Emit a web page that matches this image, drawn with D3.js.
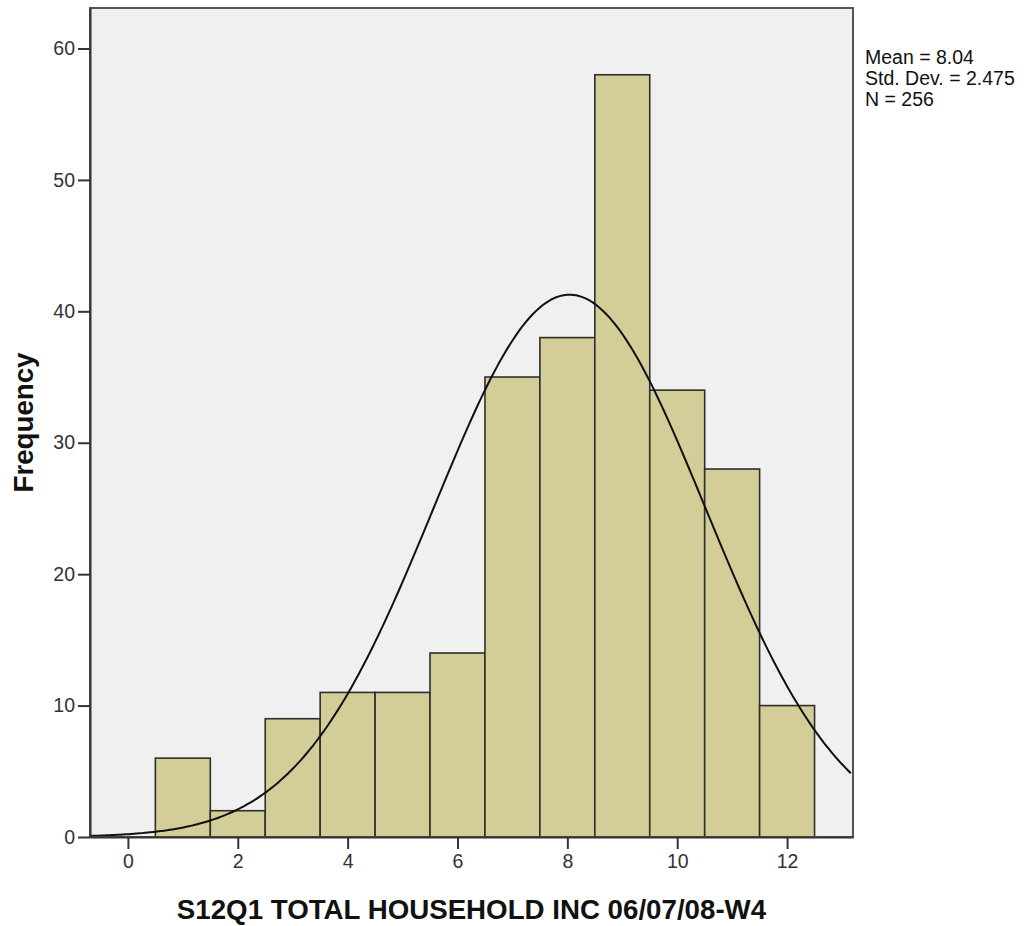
<!DOCTYPE html>
<html>
<head>
<meta charset="utf-8">
<script src="https://cdn.jsdelivr.net/npm/d3@7"></script>
<style>
  body { margin: 0; background: #fff; }
  svg { display: block; font-family: "Liberation Sans", Arial, sans-serif; }
</style>
</head>
<body>
<div id="chart"></div>
<script>
// histogram bins (centre of each bin) and counts
var binCenters = [1, 2, 3, 4, 5, 6, 7, 8, 9, 10, 11, 12];
var counts = [6, 2, 9, 11, 11, 14, 35, 38, 58, 34, 28, 10];
var xTicks = [0, 2, 4, 6, 8, 10, 12];
var yTicks = [0, 10, 20, 30, 40, 50, 60];
var stats = ["Mean = 8.04", "Std. Dev. = 2.475", "N = 256"];
var mean = 8.04, sd = 2.475, n = 256, binWidth = 1;

var width = 1027, height = 926;
var plot = { left: 90, top: 8, right: 853, bottom: 837 };

var svg = d3.select("#chart").append("svg")
    .attr("width", width)
    .attr("height", height);

var x = d3.scaleLinear()
    .domain([-0.69, 13.2])
    .range([plot.left, plot.right]);

var y = d3.scaleLinear()
    .domain([0, 63.08])
    .range([plot.bottom, plot.top]);

// plot background
svg.append("rect")
    .attr("x", plot.left)
    .attr("y", plot.top)
    .attr("width", plot.right - plot.left)
    .attr("height", plot.bottom - plot.top)
    .style("fill", "#f0f0f0");

svg.append("clipPath").attr("id", "clip")
  .append("rect")
    .attr("x", plot.left)
    .attr("y", plot.top)
    .attr("width", plot.right - plot.left)
    .attr("height", plot.bottom - plot.top);

// bars
svg.append("g").selectAll("rect")
    .data(binCenters)
  .enter().append("rect")
    .attr("x", function(d) { return x(d - binWidth / 2); })
    .attr("y", function(d, i) { return y(counts[i]); })
    .attr("width", function(d) { return x(d + binWidth / 2) - x(d - binWidth / 2); })
    .attr("height", function(d, i) { return y(0) - y(counts[i]); })
    .style("fill", "#d3ce97")
    .style("stroke", "#2e2e2e")
    .style("stroke-width", 1.6);

// normal curve from the shown mean / sd / N
var curveX = d3.range(-0.69, 13.21, 0.05);
var line = d3.line()
    .x(function(d) { return x(d); })
    .y(function(d) {
        var z = (d - mean) / sd;
        return y(n * binWidth * Math.exp(-0.5 * z * z) / (sd * Math.sqrt(2 * Math.PI)));
    });

svg.append("path")
    .datum(curveX)
    .attr("clip-path", "url(#clip)")
    .attr("d", line)
    .style("fill", "none")
    .style("stroke", "#111")
    .style("stroke-width", 2);

// frame
svg.append("rect")
    .attr("x", plot.left)
    .attr("y", plot.top)
    .attr("width", plot.right - plot.left)
    .attr("height", plot.bottom - plot.top)
    .style("fill", "none")
    .style("stroke", "#555")
    .style("stroke-width", 2);

// axes
var yAxis = svg.append("g")
    .attr("transform", "translate(" + plot.left + ",0)")
    .call(d3.axisLeft(y).tickValues(yTicks).tickSizeInner(12).tickSizeOuter(0)
        .tickPadding(3).tickFormat(d3.format("d")));

var xAxis = svg.append("g")
    .attr("transform", "translate(0," + plot.bottom + ")")
    .call(d3.axisBottom(x).tickValues(xTicks).tickSizeInner(12).tickSizeOuter(0)
        .tickPadding(5).tickFormat(d3.format("d")));

[xAxis, yAxis].forEach(function(ax) {
    ax.select(".domain").style("stroke", "#333").style("stroke-width", 2);
    ax.selectAll(".tick line").style("stroke", "#333").style("stroke-width", 2);
    ax.selectAll(".tick text")
        .style("font-family", "'Liberation Sans', Arial, sans-serif")
        .style("font-size", "19.5px")
        .style("fill", "#333");
});

// axis titles
svg.append("text")
    .attr("transform", "translate(33," + ((plot.top + plot.bottom) / 2) + ") rotate(-90)")
    .attr("text-anchor", "middle")
    .style("font-size", "27.7px")
    .style("font-weight", "bold")
    .style("fill", "#111")
    .text("Frequency");

svg.append("text")
    .attr("x", (plot.left + plot.right) / 2)
    .attr("y", 919)
    .attr("text-anchor", "middle")
    .style("font-size", "27.7px")
    .style("font-weight", "bold")
    .style("fill", "#111")
    .text("S12Q1 TOTAL HOUSEHOLD INC 06/07/08-W4");

// stats box
svg.append("g").selectAll("text")
    .data(stats)
  .enter().append("text")
    .attr("x", 865)
    .attr("y", function(d, i) { return 64 + i * 21; })
    .style("font-size", "19.5px")
    .style("fill", "#111")
    .text(function(d) { return d; });
</script>
</body>
</html>
